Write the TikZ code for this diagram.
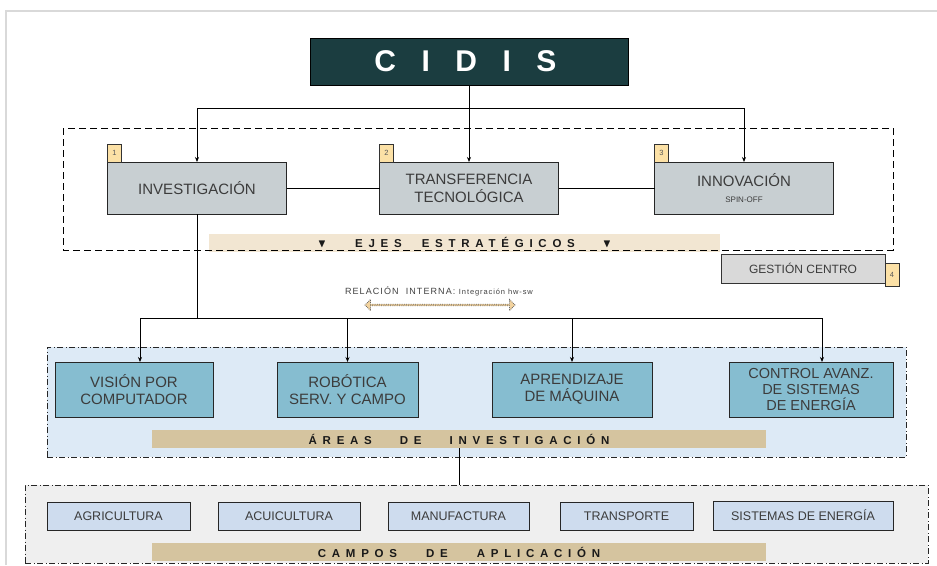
\documentclass[tikz,border=0pt]{standalone}
\usepackage{amssymb}
\usepackage{fontspec}
\setmainfont{Liberation Sans}
\newfontfamily\spacedfont[LetterSpace=50]{Liberation Sans}
\newfontfamily\titlefont[LetterSpace=85]{Liberation Sans}
\newfontfamily\relfont[LetterSpace=12]{Liberation Sans}
\usetikzlibrary{arrows.meta,shapes.arrows}

\definecolor{cidisfill}{HTML}{1B3D40}
\definecolor{ejefill}{HTML}{C8CFD2}
\definecolor{badgefill}{HTML}{FCE1A6}
\definecolor{gestfill}{HTML}{D9D9D9}
\definecolor{ejeband}{HTML}{F2E6D2}
\definecolor{areabg}{HTML}{DDEAF6}
\definecolor{areafill}{HTML}{86BDD0}
\definecolor{tanband}{HTML}{D5C49F}
\definecolor{campobg}{HTML}{EFEFEF}
\definecolor{campofill}{HTML}{CEDCEE}
\definecolor{boxtext}{HTML}{3C3C3C}
\definecolor{arrowfill}{HTML}{F3D39E}

\begin{document}
\begin{tikzpicture}[x=1pt,y=-1pt,
  every node/.style={inner sep=0pt, outer sep=0pt},
  ejebox/.style={draw=black!85, line width=0.9pt, fill=ejefill, minimum width=179pt,
    minimum height=52pt, align=center, text=boxtext, font=\fontsize{15}{18}\selectfont},
  badge/.style={draw=black!80, line width=0.7pt, fill=badgefill, minimum width=14pt,
    minimum height=18pt, font=\fontsize{7.5}{8}\selectfont, text=black!65, anchor=south west},
  areabox/.style={draw=black!85, line width=0.9pt, fill=areafill, minimum height=55pt,
    align=center, text=boxtext, font=\fontsize{15}{17}\selectfont},
  campobox/.style={draw=black!85, line width=0.9pt, fill=campofill, minimum height=28pt,
    text=boxtext, font=\fontsize{12.5}{14}\selectfont},
  band/.style={minimum height=18pt, text=black!90,
    font=\spacedfont\bfseries\fontsize{11.5}{12}\selectfont},
  dashdotframe/.style={draw=black!85, line width=0.9pt,
    dash pattern=on 6pt off 2.5pt on 1pt off 2.5pt},
  arr/.style={-{Stealth[length=5pt,width=4pt]}, line width=0.8pt},
  conn/.style={line width=0.8pt}
]
\useasboundingbox (0,0) rectangle (937,565);

% page frame
\draw[black!15, line width=1.2pt] (6,565) -- (6,11) -- (937,11);

%%%%%%%%%%%%%%%%%%%%%%%%%%%%%%%
\node[fill=cidisfill, draw=black, line width=0.9pt, minimum width=318pt, minimum height=47pt,
  text=white, font=\titlefont\bfseries\fontsize{30}{32}\selectfont] (cidis) at (469,61.5)
  {CIDIS\kern7pt};

% ejes estrategicos
\node[ejebox] (inv) at (197,188) {INVESTIGACIÓN};
\node[ejebox] (transf) at (469,188) {TRANSFERENCIA\\TECNOLÓGICA};
\node[ejebox] (innov) at (744,188) {INNOVACIÓN\\[-2pt]{\fontsize{8}{9}\selectfont SPIN-OFF}};

\node[badge] (b1) at (inv.north west) {1};
\node[badge] (b2) at (transf.north west) {2};
\node[badge] (b3) at (innov.north west) {3};

\coordinate (fork) at (469,108);
\draw[conn] (cidis.south) -- (fork);
\draw[arr] (fork) -| (inv.north);
\draw[arr] (fork) -- (transf.north);
\draw[arr] (fork) -| (innov.north);

\draw[conn] (inv) -- (transf);
\draw[conn] (transf) -- (innov);

\node[band, fill=ejeband, minimum width=511pt] (ejes) at (464.5,242.5)
  {$\blacktriangledown$\hspace{29pt}EJES\hspace{20pt}ESTRATÉGICOS\hspace{28pt}$\blacktriangledown$};
\draw[line width=0.9pt, dash pattern=on 7pt off 4pt] (63,128) rectangle (893,250);

\node[draw=black!80, line width=0.9pt, fill=gestfill, minimum width=164pt, minimum height=29pt,
  font=\fontsize{12}{14}\selectfont, text=boxtext] (gest) at (803,268.5) {GESTIÓN CENTRO};
\node[badge, anchor=west, minimum height=23pt] (b4) at ([yshift=-6.5pt]gest.east) {4};

%%%%%%%%%%%%%%%%%%%%%%%%%%%%%%%
\node[font=\relfont\fontsize{9}{10}\selectfont, text=black!75] (reltext) at (439,291)
  {RELACIÓN\ \ INTERNA: {\fontsize{7.5}{9}\selectfont Integración hw-sw}};
\node[double arrow, draw=black!60, densely dotted, line width=0.8pt, fill=arrowfill,
  minimum height=150pt, minimum width=11pt, double arrow head extend=2.5pt] (relarrow)
  at (440,305) {};

% areas de investigacion
\node[dashdotframe, fill=areabg, minimum width=859pt, minimum height=110pt] (aframe)
  at (476.5,402) {};

\node[areabox, minimum width=158pt] (vis) at (134,389.5) {VISIÓN POR\\COMPUTADOR};
\node[areabox, minimum width=141pt] (robo) at (347.5,389.5) {ROBÓTICA\\SERV. Y CAMPO};
\node[areabox, minimum width=160pt] (apren) at (572,389.5) {APRENDIZAJE\\DE MÁQUINA};
\node[areabox, minimum width=164pt, font=\fontsize{14.5}{16}\selectfont] (ctrl) at (811,389.5)
  {CONTROL AVANZ.\\DE SISTEMAS\\DE ENERGÍA};

\coordinate (split) at (197,318);
\draw[conn] (inv.south) -- (split);
\draw[arr] (split) -| ([xshift=6pt]vis.north);
\draw[arr] (split) -| (robo.north);
\draw[arr] (split) -| (apren.north);
\draw[arr] (split) -| ([xshift=11pt]ctrl.north);

\node[band, fill=tanband, minimum width=614pt] (aband) at (459,439)
  {ÁREAS\hspace{28pt}DE\hspace{28pt}INVESTIGACIÓN};

% campos de aplicacion
\node[dashdotframe, fill=campobg, minimum width=903pt, minimum height=78pt] (cframe)
  at (476.5,524) {};
\draw[conn] (aband.south) -- (aband.south |- cframe.north);

\node[campobox, minimum width=143pt] (agri) at (118.5,516) {AGRICULTURA};
\node[campobox, minimum width=142pt] (acui) at (289,516) {ACUICULTURA};
\node[campobox, minimum width=141pt] (manu) at (458.5,516) {MANUFACTURA};
\node[campobox, minimum width=133pt] (transp) at (626.5,516) {TRANSPORTE};
\node[campobox, minimum width=180pt, minimum height=29pt] (sist) at (803,515.5)
  {SISTEMAS DE ENERGÍA};

\node[band, fill=tanband, minimum width=614pt] (cband) at (459,552)
  {CAMPOS\hspace{29pt}DE\hspace{29pt}APLICACIÓN};
\end{tikzpicture}
\end{document}
